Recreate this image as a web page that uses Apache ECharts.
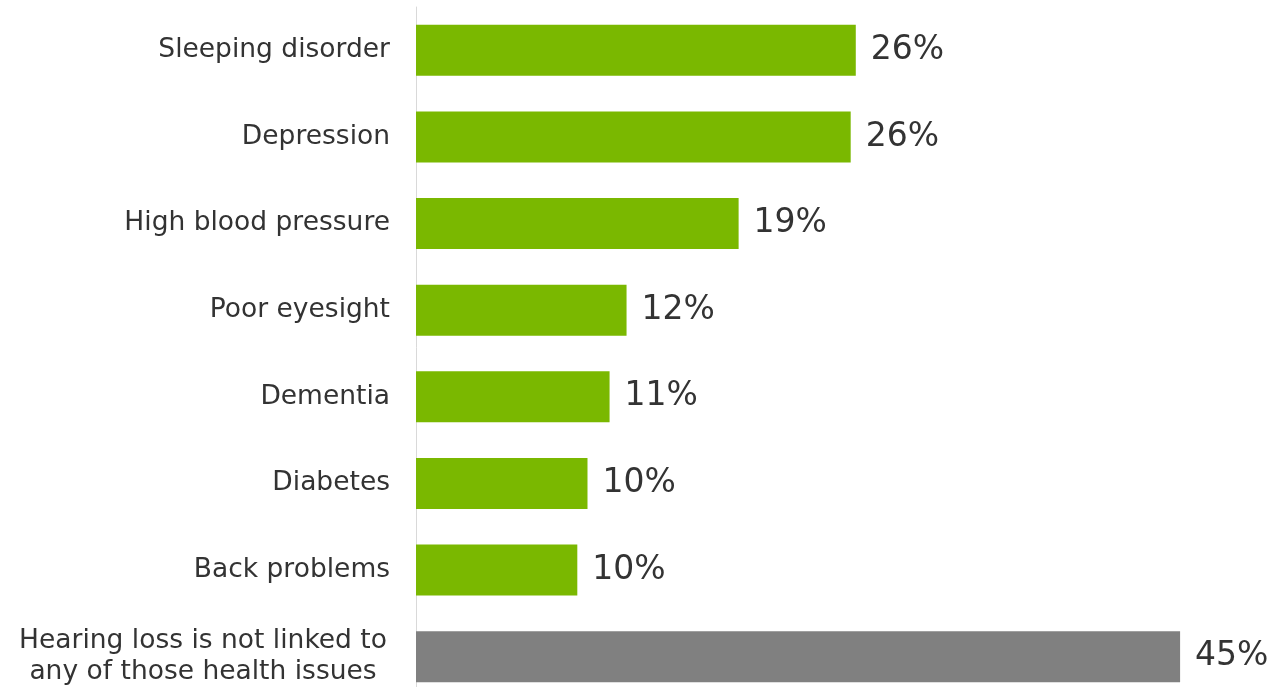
<!DOCTYPE html>
<html>
<head>
<meta charset="utf-8">
<script src="https://cdn.jsdelivr.net/npm/echarts@6/dist/echarts.min.js"></script>
<style>
html,body{margin:0;padding:0;background:#fff;}
#chart{width:1271px;height:687px;}
</style>
</head>
<body>
<div id="chart"></div>
<script>
const categories = [
  "Sleeping disorder",
  "Depression",
  "High blood pressure",
  "Poor eyesight",
  "Dementia",
  "Diabetes",
  "Back problems",
  "Hearing loss is not linked to\nany of those health issues"
];
const values = [25.9, 25.6, 19.0, 12.4, 11.4, 10.1, 9.5, 45.0];
const labels = ["26%", "26%", "19%", "12%", "11%", "10%", "10%", "45%"];
const barColors = ["#7ab800", "#7ab800", "#7ab800", "#7ab800", "#7ab800", "#7ab800", "#7ab800", "#808080"];

const chart = echarts.init(document.getElementById('chart'));
chart.setOption({
  animation: false,
  backgroundColor: '#ffffff',
  grid: { left: 416, top: 7, width: 849, height: 693, containLabel: false, outerBoundsMode: 'none' },
  xAxis: {
    type: 'value', min: 0, max: 50, show: false
  },
  yAxis: {
    type: 'category',
    data: categories,
    inverse: true,
    axisLine: { show: true, lineStyle: { color: '#d9d9d9', width: 1 } },
    axisTick: { show: false },
    splitLine: { show: false },
    axisLabel: {
      margin: 26,
      color: '#333333',
      fontFamily: 'DejaVu Sans',
      fontSize: 26.5,
      formatter: function (v) {
        if (v.indexOf('\n') >= 0) {
          return v.split('\n').map(function (s) { return '{c|' + s + '}'; }).join('\n');
        }
        return v;
      },
      rich: {
        c: { width: 374, align: 'center', fontFamily: 'DejaVu Sans', fontSize: 26.5, color: '#333333', lineHeight: 31 }
      }
    }
  },
  series: [{
    type: 'bar',
    data: values.map(function (v, i) { return { value: v, itemStyle: { color: barColors[i] } }; }),
    barWidth: 51,
    label: {
      show: true,
      position: 'right',
      distance: 15,
      color: '#333333',
      fontFamily: 'DejaVu Sans',
      fontSize: 33,
      formatter: function (p) { return labels[p.dataIndex]; }
    }
  }]
});
</script>
</body>
</html>
